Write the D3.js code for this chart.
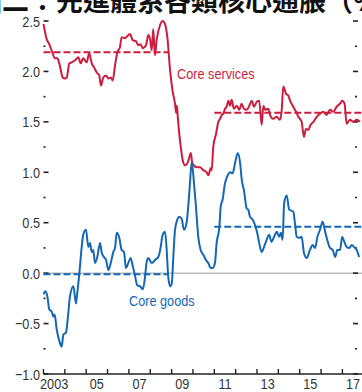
<!DOCTYPE html>
<html><head><meta charset="utf-8">
<script src="https://cdn.jsdelivr.net/npm/d3@7"></script>
<style>
html,body{margin:0;padding:0;background:#fff;overflow:hidden;}
svg{display:block;}
</style></head>
<body><svg id="c" width="362" height="392"></svg>
<script>
// ---- data ----
const titleText = "圖二：先進體系各類核心通脹（%）";
const svcT = [2003.00,2003.15,2003.27,2003.38,2003.54,2003.65,2003.74,2003.90,2004.00,2004.09,2004.21,2004.32,2004.48,2004.63,2004.74,2004.86,2005.02,2005.14,2005.26,2005.37,2005.49,2005.61,2005.69,2005.80,2005.93,2006.04,2006.15,2006.24,2006.35,2006.46,2006.58,2006.66,2006.82,2006.92,2007.05,2007.18,2007.33,2007.44,2007.55,2007.65,2007.80,2007.91,2007.99,2008.07,2008.14,2008.22,2008.30,2008.46,2008.58,2008.69,2008.80,2008.93,2009.05,2009.16,2009.21,2009.25,2009.29,2009.36,2009.43,2009.52,2009.63,2009.74,2009.82,2009.90,2009.97,2010.18,2010.33,2010.49,2010.64,2010.72,2010.83,2010.88,2010.95,2011.08,2011.19,2011.27,2011.35,2011.42,2011.50,2011.58,2011.66,2011.74,2011.81,2011.92,2012.05,2012.17,2012.28,2012.39,2012.52,2012.64,2012.75,2012.86,2012.99,2013.10,2013.22,2013.30,2013.38,2013.53,2013.61,2013.76,2013.92,2014.08,2014.16,2014.23,2014.36,2014.47,2014.55,2014.70,2014.83,2014.94,2015.09,2015.20,2015.29,2015.40,2015.51,2015.64,2015.80,2015.95,2016.10,2016.26,2016.42,2016.57,2016.73,2016.89,2017.00,2017.10,2017.20,2017.27,2017.35,2017.51,2017.67,2017.82];
const svcV = [2.47,2.32,2.27,2.21,2.13,2.13,2.08,1.94,1.93,1.94,2.08,2.09,2.11,2.14,2.08,2.13,2.09,2.18,2.08,2.04,1.99,1.96,1.86,1.94,1.96,1.93,1.94,1.91,2.06,2.19,2.24,2.34,2.33,2.35,2.37,2.31,2.30,2.26,2.27,2.23,2.26,2.36,2.32,2.21,2.42,2.16,2.31,2.46,2.50,2.47,2.34,2.01,1.80,1.68,1.59,1.66,1.55,1.38,1.25,1.12,1.07,1.09,1.14,1.19,1.09,1.05,1.05,1.02,1.00,0.97,1.04,1.02,1.25,1.38,1.50,1.53,1.57,1.58,1.63,1.65,1.71,1.66,1.72,1.63,1.66,1.62,1.68,1.63,1.62,1.66,1.71,1.65,1.70,1.71,1.47,1.66,1.62,1.63,1.57,1.53,1.55,1.52,1.62,1.85,1.78,1.76,1.71,1.65,1.60,1.55,1.50,1.35,1.43,1.42,1.47,1.50,1.55,1.58,1.60,1.57,1.62,1.60,1.65,1.68,1.71,1.68,1.48,1.50,1.52,1.50,1.52,1.50];
const gdsT = [2003.00,2003.08,2003.18,2003.27,2003.38,2003.46,2003.52,2003.62,2003.70,2003.80,2003.85,2003.93,2004.05,2004.16,2004.24,2004.40,2004.52,2004.58,2004.68,2004.79,2004.86,2004.99,2005.10,2005.18,2005.26,2005.33,2005.41,2005.52,2005.65,2005.72,2005.83,2005.93,2006.04,2006.15,2006.27,2006.35,2006.43,2006.55,2006.66,2006.77,2006.86,2006.97,2007.08,2007.18,2007.29,2007.39,2007.52,2007.65,2007.75,2007.83,2007.91,2008.07,2008.22,2008.38,2008.49,2008.58,2008.69,2008.77,2008.84,2008.93,2009.01,2009.08,2009.16,2009.27,2009.36,2009.47,2009.58,2009.71,2009.78,2009.86,2009.94,2010.05,2010.14,2010.25,2010.36,2010.49,2010.61,2010.72,2010.83,2010.92,2011.03,2011.11,2011.24,2011.30,2011.39,2011.50,2011.61,2011.74,2011.86,2011.97,2012.10,2012.21,2012.29,2012.39,2012.52,2012.59,2012.67,2012.80,2012.90,2013.01,2013.10,2013.22,2013.33,2013.45,2013.57,2013.68,2013.80,2013.93,2014.04,2014.12,2014.20,2014.27,2014.39,2014.51,2014.70,2014.78,2014.86,2014.98,2015.09,2015.20,2015.33,2015.48,2015.61,2015.72,2015.83,2015.95,2016.08,2016.19,2016.29,2016.42,2016.55,2016.66,2016.76,2016.89,2016.99,2017.09,2017.20,2017.32,2017.44,2017.54,2017.67,2017.78];
const gdsV = [-0.21,-0.18,-0.23,-0.36,-0.38,-0.43,-0.41,-0.56,-0.64,-0.71,-0.73,-0.61,-0.59,-0.40,-0.23,-0.13,-0.30,-0.20,0.00,0.26,0.38,0.43,0.26,0.30,0.21,0.23,0.10,0.16,0.30,0.21,0.16,0.13,0.03,0.10,0.21,0.25,0.40,0.35,0.23,0.21,0.05,0.10,0.15,0.07,-0.03,-0.12,-0.13,-0.16,-0.05,0.11,0.15,0.10,0.13,0.16,0.26,0.38,0.41,0.23,-0.03,-0.13,-0.10,0.16,0.43,0.53,0.56,0.54,0.43,0.51,0.66,0.89,1.10,0.89,0.66,0.36,0.23,0.18,0.13,0.10,0.05,0.05,0.10,0.30,0.46,0.66,0.73,0.89,0.96,1.00,0.99,1.09,1.19,1.09,0.92,0.82,0.64,0.63,0.56,0.53,0.48,0.40,0.30,0.21,0.26,0.33,0.38,0.31,0.36,0.41,0.36,0.40,0.33,0.69,0.77,0.63,0.61,0.49,0.36,0.35,0.36,0.20,0.15,0.23,0.28,0.25,0.36,0.43,0.51,0.41,0.33,0.25,0.23,0.16,0.23,0.23,0.36,0.31,0.26,0.25,0.28,0.26,0.23,0.16];
// period averages: [start, end]
const periodStart = [2003.0, 2011.0];
const periodEnd = [2008.83, 2017.95];
const svcAvg = [2.19, 1.59];
const gdsAvg = [-0.01, 0.46];
const yMajor = [2.5, 2.0, 1.5, 1.0, 0.5, 0.0, -0.5, -1.0];
const yMinor = [2.25, 1.75, 1.25, 0.75, 0.25, -0.25, -0.75];
const xTickYears = [2003,2004,2005,2006,2007,2008,2009,2010,2011,2012,2013,2014,2015,2016,2017];
const xLabelYears = [2003,2005,2007,2009,2011,2013,2015,2017];
const xLabels = ["2003","05","07","09","11","13","15","17"];

// ---- drawing ----
const RED = "#cc1d3e", BLUE = "#1467b5", TXT = "#333333";
const FONT = "'Liberation Sans',Arial,sans-serif";
const SQ = 0.82; // horizontal condensing to mimic a narrow face
const svg = d3.select("#c");
const x = d3.scaleLinear().domain([2003, 2018]).range([43.5, 363.75]);
const y = d3.scaleLinear().domain([-1, 2.5]).range([374, 21]);

function narrowText(px, py, str, anchor, color, size) {
  return svg.append("text")
    .attr("transform", `translate(${px},${py}) scale(${SQ},1)`)
    .attr("text-anchor", anchor).attr("font-family", FONT)
    .attr("font-size", size).attr("fill", color).text(str);
}

// title (clipped at top)
svg.append("text").attr("x", -25).attr("y", 10.5)
  .attr("font-family", "'Noto Sans CJK TC','Noto Sans CJK SC',sans-serif")
  .attr("font-size", 27).attr("font-weight", 700).attr("fill", "#111")
  .text(titleText);

// zero line
svg.append("line").attr("x1", x(2003)).attr("x2", 362).attr("y1", y(0)).attr("y2", y(0))
  .attr("stroke", "#999").attr("stroke-width", 1);

// y ticks left & right
yMajor.forEach(v => {
  svg.append("line").attr("x1", 43.5).attr("x2", 48.5).attr("y1", y(v)).attr("y2", y(v)).attr("stroke", "#222").attr("stroke-width", 1.6);
  svg.append("line").attr("x1", 353).attr("x2", 358).attr("y1", y(v)).attr("y2", y(v)).attr("stroke", "#222").attr("stroke-width", 1.6);
  narrowText(40, y(v) + 5.5, d3.format(".1f")(v).replace("-", "\u2212"), "end", TXT, 15.5);
});
yMinor.forEach(v => {
  svg.append("line").attr("x1", 43.5).attr("x2", 45.5).attr("y1", y(v)).attr("y2", y(v)).attr("stroke", "#222").attr("stroke-width", 1.6);
  svg.append("line").attr("x1", 355).attr("x2", 357).attr("y1", y(v)).attr("y2", y(v)).attr("stroke", "#222").attr("stroke-width", 1.6);
});

// x axis
svg.append("line").attr("x1", x(2003)).attr("x2", 362).attr("y1", y(-1)).attr("y2", y(-1)).attr("stroke", "#222").attr("stroke-width", 1.4);
xTickYears.forEach(t => {
  svg.append("line").attr("x1", x(t)).attr("x2", x(t)).attr("y1", y(-1)).attr("y2", y(-1) - 5).attr("stroke", "#222").attr("stroke-width", 1.4);
});
xLabelYears.forEach((t, i) => {
  narrowText(x(t + 0.5), 388.5, xLabels[i], "middle", TXT, 15.5);
});

// averages
function dashed(vals, color) {
  vals.forEach((v, i) => {
    svg.append("line").attr("x1", x(periodStart[i])).attr("x2", x(periodEnd[i]))
      .attr("y1", y(v)).attr("y2", y(v)).attr("stroke", color).attr("stroke-width", 2)
      .attr("stroke-dasharray", "7,3");
  });
}
dashed(svcAvg, RED);
dashed(gdsAvg, BLUE);

// series
const line = d3.line().x(d => x(d[0])).y(d => y(d[1])).curve(d3.curveMonotoneX);
svg.append("path").datum(svcT.map((t, i) => [t, svcV[i]])).attr("d", line)
  .attr("fill", "none").attr("stroke", RED).attr("stroke-width", 2).attr("stroke-linejoin", "round");
svg.append("path").datum(gdsT.map((t, i) => [t, gdsV[i]])).attr("d", line)
  .attr("fill", "none").attr("stroke", BLUE).attr("stroke-width", 2).attr("stroke-linejoin", "round");

// labels
narrowText(177, 79, "Core services", "start", RED, 15.5);
narrowText(129, 306, "Core goods", "start", BLUE, 15.5);
</script>
</body></html>
